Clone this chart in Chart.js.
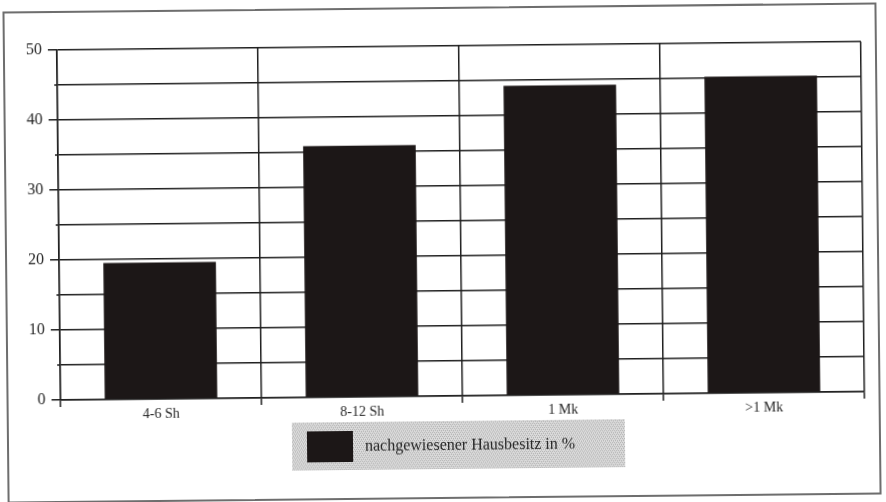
<!DOCTYPE html>
<html>
<head>
<meta charset="utf-8">
<script src="https://cdn.jsdelivr.net/npm/chart.js@4.4.1/dist/chart.umd.min.js"></script>
<style>
  html, body { margin: 0; padding: 0; background: #ffffff; }
  #sheet {
    position: relative; width: 886px; height: 502px;
    transform: rotate(-0.6deg); transform-origin: 443px 251px;
  }
  #frame {
    position: absolute; left: 5px; top: 7px; width: 874px; height: 492px;
    border: 2px solid #6e6e6e; box-sizing: border-box;
  }
  #chart { position: absolute; left: 0; top: 0; }
</style>
</head>
<body>
<div id="sheet">
  <div id="frame"></div>
  <canvas id="chart" width="886" height="502"></canvas>
</div>
<script>
// Share of proven house ownership per tax bracket
const categories = ['4-6 Sh', '8-12 Sh', '1 Mk', '>1 Mk'];
const hausbesitz = [19.5, 35.9, 44.2, 45.2];
const yTickLabels = [0, 10, 20, 30, 40, 50];
const seriesLabel = 'nachgewiesener Hausbesitz in %';

const INK = '#1f1f1f';
const BAR = '#1c1717';
const FONT = '"Liberation Serif", "Times New Roman", serif';

// Fine dotted screen used as the legend panel fill
function halftone() {
  const c = document.createElement('canvas');
  c.width = 4; c.height = 4;
  const g = c.getContext('2d');
  g.fillStyle = '#dcdcdc'; g.fillRect(0, 0, 4, 4);
  g.fillStyle = '#b2b2b2';
  g.fillRect(0, 0, 1, 1); g.fillRect(2, 0, 1, 1);
  g.fillRect(1, 2, 1, 1); g.fillRect(3, 2, 1, 1);
  g.fillStyle = '#c6c6c6';
  g.fillRect(1, 1, 1, 1); g.fillRect(3, 3, 1, 1);
  return c;
}

// Short stubs for the in-between (5, 15, ...) ticks
const minorTicks = {
  id: 'minorTicks',
  afterDraw(chart) {
    const y = chart.scales.y, ctx = chart.ctx;
    ctx.save();
    ctx.strokeStyle = INK; ctx.lineWidth = 1.5;
    for (let v = 5; v < 50; v += 10) {
      const py = y.getPixelForValue(v);
      ctx.beginPath(); ctx.moveTo(y.right - 3, py); ctx.lineTo(y.right, py); ctx.stroke();
    }
    ctx.restore();
  }
};

// Legend panel below the axis
const panelLegend = {
  id: 'panelLegend',
  afterDraw(chart) {
    const ctx = chart.ctx;
    const ds = chart.data.datasets[0];
    const x0 = 290, y0 = 421, w = 333, h = 48;
    ctx.save();
    ctx.fillStyle = ctx.createPattern(halftone(), 'repeat');
    ctx.fillRect(x0, y0, w, h);
    ctx.fillStyle = ds.backgroundColor;
    ctx.fillRect(x0 + 15, y0 + 9, 46, 31);
    ctx.fillStyle = '#262626';
    ctx.font = '16px ' + FONT;
    ctx.textBaseline = 'middle';
    ctx.fillText(ds.label, x0 + 73, y0 + 25);
    ctx.restore();
  }
};

new Chart(document.getElementById('chart'), {
  type: 'bar',
  data: {
    labels: categories,
    datasets: [{
      label: seriesLabel,
      data: hausbesitz,
      backgroundColor: BAR,
      borderWidth: 0,
      categoryPercentage: 1.0,
      barPercentage: 0.56
    }]
  },
  options: {
    responsive: false,
    animation: false,
    devicePixelRatio: 1,
    layout: { padding: { top: 46, right: 23, left: 0, bottom: 81 } },
    plugins: { legend: { display: false }, tooltip: { enabled: false } },
    scales: {
      x: {
        afterFit(s) { s.height = 25; },
        grid: { offset: true, color: INK, lineWidth: 1.5, tickLength: 7, tickColor: INK },
        border: { color: INK, width: 1.5 },
        ticks: { color: '#262626', font: { family: FONT, size: 14 }, padding: 0 }
      },
      y: {
        min: 0, max: 50,
        afterFit(s) { s.width = 59; },
        grid: {
          color: INK, lineWidth: 1.5, tickLength: 9,
          tickColor: (c) => (c.tick && yTickLabels.includes(c.tick.value)) ? INK : 'rgba(0,0,0,0)'
        },
        border: { color: INK, width: 1.5 },
        ticks: {
          stepSize: 5, padding: 6, color: '#262626',
          font: { family: FONT, size: 16 },
          callback: (v) => yTickLabels.includes(v) ? String(v) : ''
        }
      }
    }
  },
  plugins: [minorTicks, panelLegend]
});
</script>
</body>
</html>
